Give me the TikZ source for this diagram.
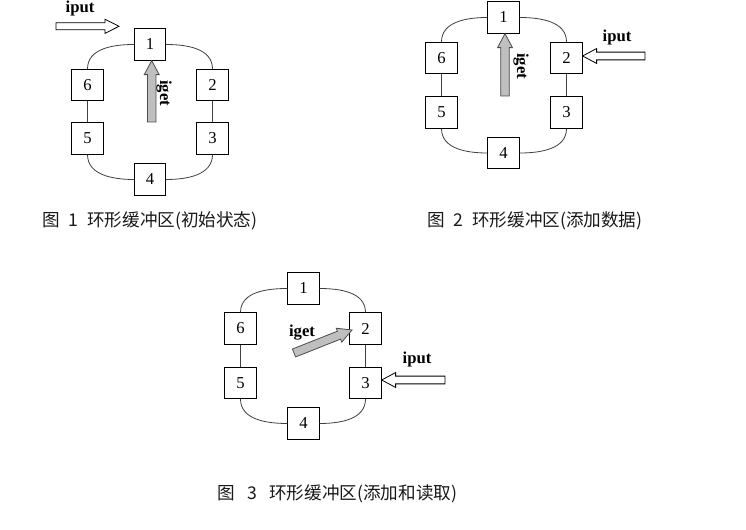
\documentclass[tikz,border=0pt]{standalone}
\usepackage{fontspec}
\setmainfont{Liberation Serif}
\newfontfamily\cjk{Noto Sans CJK SC}
\usetikzlibrary{calc}
\tikzset{
  cell/.style={draw=black, line width=0.7pt, fill=white, minimum width=23.5pt, minimum height=23.5pt, inner sep=0pt, font=\fontsize{12.5}{13}\selectfont},
  ring/.style={draw=black!75, line width=0.6pt},
  lbl/.style={font=\fontsize{12.5}{13}\bfseries\selectfont, inner sep=0pt},
  captext/.style={font=\cjk\fontsize{13.2}{14}\selectfont, inner sep=0pt, anchor=west, text=black!90},
  putarrow/.style={draw=black, line width=0.6pt, fill=white},
  getarrow/.style={draw=black!70, line width=0.6pt, fill=black!25},
}
% \fatarrow{tail}{tip}{shaft half}{head half}{head length}{style}
\newcommand{\fatarrow}[6]{%
  \coordinate (fa-c) at ($(#2)!#5!(#1)$);
  \path[#6] ($(#1)!#3!90:(#2)$) -- ($(fa-c)!#3!-90:(#1)$) -- ($(fa-c)!#4!-90:(#1)$) -- (#2)
    -- ($(fa-c)!#4!90:(#1)$) -- ($(fa-c)!#3!90:(#1)$) -- ($(#1)!#3!-90:(#2)$) -- cycle;
}
\begin{document}
\begin{tikzpicture}[x=0.75pt,y=-0.75pt]
\useasboundingbox (0,0) rectangle (746,530);
\fill[white] (0,0) rectangle (746,530);

% ---------- Figure 1 ----------
\node[cell] (a1) at (150,44.5) {1};
\node[cell] (a2) at (212.5,85) {2};
\node[cell] (a3) at (212.5,138.5) {3};
\node[cell] (a4) at (150,179.5) {4};
\node[cell] (a5) at (87.5,138.5) {5};
\node[cell] (a6) at (87.5,85) {6};
\draw[ring] (a1.west) to[out=180,in=90] (a6.north);
\draw[ring] (a1.east) to[out=0,in=90] (a2.north);
\draw[ring] (a6.south) -- (a5.north);
\draw[ring] (a2.south) -- (a3.north);
\draw[ring] (a5.south) to[out=-90,in=180] (a4.west);
\draw[ring] (a3.south) to[out=-90,in=0] (a4.east);
\coordinate (a-put-tail) at (56,26.3);
\coordinate (a-put-tip) at (119,26.3);
\fatarrow{a-put-tail}{a-put-tip}{2.6pt}{5.3pt}{10.5pt}{putarrow}
\node[lbl] (a-put) at (80,8) {iput};
\coordinate (a-get-tail) at (151.7,122);
\coordinate (a-get-tip) at (a1.south -| a-get-tail);
\fatarrow{a-get-tail}{a-get-tip}{3.2pt}{5.6pt}{10.5pt}{getarrow}
\node[lbl, rotate=-90] (a-get) at (164,93) {iget};
\node[captext] (cap1) at (42,220.5) {图\hspace{0.5em}1\hspace{0.5em}环形缓冲区(初始状态)};

% ---------- Figure 2 ----------
\node[cell] (b1) at (503.5,17.5) {1};
\node[cell] (b2) at (566.5,58) {2};
\node[cell] (b3) at (566.5,112.5) {3};
\node[cell] (b4) at (503.5,153) {4};
\node[cell] (b5) at (441.5,112.5) {5};
\node[cell] (b6) at (441.5,58) {6};
\draw[ring] (b1.west) to[out=180,in=90] (b6.north);
\draw[ring] (b1.east) to[out=0,in=90] (b2.north);
\draw[ring] (b6.south) -- (b5.north);
\draw[ring] (b2.south) -- (b3.north);
\draw[ring] (b5.south) to[out=-90,in=180] (b4.west);
\draw[ring] (b3.south) to[out=-90,in=0] (b4.east);
\coordinate (b-put-tail) at (645,56);
\coordinate (b-put-tip) at (b2.east |- b-put-tail);
\fatarrow{b-put-tail}{b-put-tip}{2.9pt}{5.6pt}{10.5pt}{putarrow}
\node[lbl] (b-put) at (617,37) {iput};
\coordinate (b-get-tail) at (505,96);
\coordinate (b-get-tip) at (b1.south -| b-get-tail);
\fatarrow{b-get-tail}{b-get-tip}{3.2pt}{5.6pt}{10.5pt}{getarrow}
\node[lbl, rotate=-90] (b-get) at (521,66) {iget};
\node[captext] (cap2) at (427,220.5) {图\hspace{0.5em}2\hspace{0.5em}环形缓冲区(添加数据)};

% ---------- Figure 3 ----------
\node[cell] (c1) at (303.5,288.5) {1};
\node[cell] (c2) at (365.5,328.5) {2};
\node[cell] (c3) at (365.5,383) {3};
\node[cell] (c4) at (303.5,423.5) {4};
\node[cell] (c5) at (240.5,383) {5};
\node[cell] (c6) at (240.5,328.5) {6};
\draw[ring] (c1.west) to[out=180,in=90] (c6.north);
\draw[ring] (c1.east) to[out=0,in=90] (c2.north);
\draw[ring] (c6.south) -- (c5.north);
\draw[ring] (c2.south) -- (c3.north);
\draw[ring] (c5.south) to[out=-90,in=180] (c4.west);
\draw[ring] (c3.south) to[out=-90,in=0] (c4.east);
\coordinate (c-put-tail) at (445,380);
\coordinate (c-put-tip) at (c3.east |- c-put-tail);
\fatarrow{c-put-tail}{c-put-tip}{2.9pt}{5.6pt}{10.5pt}{putarrow}
\node[lbl] (c-put) at (417,359) {iput};
\coordinate (c-get-tail) at (294,353);
\coordinate (c-get-tip) at (352,330);
\fatarrow{c-get-tail}{c-get-tip}{3.2pt}{5.6pt}{10.5pt}{getarrow}
\node[lbl] (c-get) at (302,333) {iget};
\node[captext] (cap3) at (217,493.5) {图\hspace{0.7em}3\hspace{0.7em}环形缓冲区(添加和读取)};
\end{tikzpicture}
\end{document}
